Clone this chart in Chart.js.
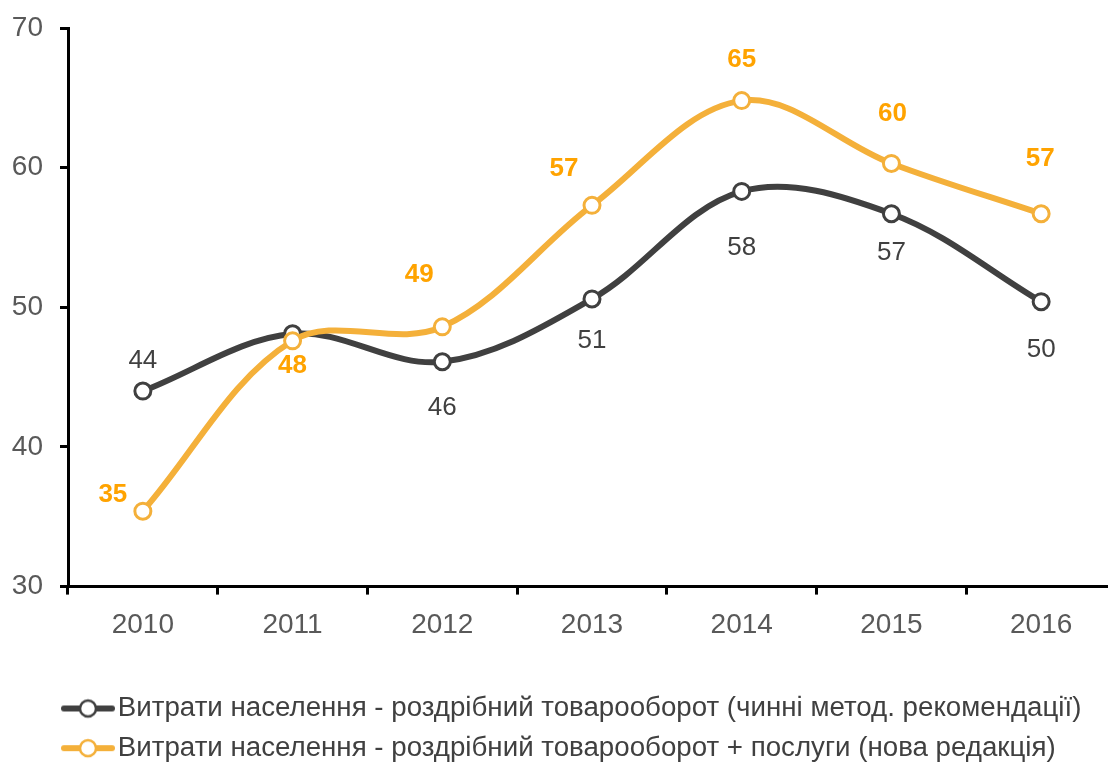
<!DOCTYPE html>
<html>
<head>
<meta charset="utf-8">
<script src="https://cdn.jsdelivr.net/npm/chart.js@4"></script>
<style>
  html, body { margin: 0; padding: 0; overflow: hidden; background: #fff; }
  #lineChart { position: absolute; left: 0; top: 0; }
</style>
</head>
<body>
<canvas id="lineChart" width="1116" height="772"></canvas>
<script>
// values
var years = ["2010", "2011", "2012", "2013", "2014", "2015", "2016"];
var retailOld = [44.0, 48.1, 46.1, 50.6, 58.3, 56.7, 50.4];
var retailNew = [35.4, 47.6, 48.6, 57.3, 64.8, 60.3, 56.7];
var retailOldName = "Витрати населення - роздрібний товарооборот (чинні метод. рекомендації)";
var retailNewName = "Витрати населення - роздрібний товарооборот + послуги (нова редакція)";

var darkColor = "#404040";
var orangeColor = "#F4B03A";
var orangeText = "#FFA300";
var tickColor = "#595959";
var baseFont = "'Liberation Sans', Arial, sans-serif";

// where each value label sits relative to its point (null = no label)
var oldLabelShift = [[0, -30], null, [0, 46], [0, 42], [0, 56], [0, 39], [0, 48]];
var newLabelShift = [[-30, -16], [0, 25], [-23, -52], [-28, -37], [0, -41], [1, -50], [-1, -55]];

// legend swatch: line with an open circle, padded on the left so the text lands right
function makeSwatch(color) {
  var c = document.createElement("canvas");
  c.width = 114;
  c.height = 24;
  var g = c.getContext("2d");
  g.strokeStyle = color;
  g.lineWidth = 6;
  g.lineCap = "round";
  g.beginPath();
  g.moveTo(63, 12);
  g.lineTo(111, 12);
  g.stroke();
  g.beginPath();
  g.arc(87, 12, 8, 0, Math.PI * 2);
  g.fillStyle = "#fff";
  g.fill();
  g.lineWidth = 2.5;
  g.stroke();
  return c;
}

var valueLabels = {
  id: "valueLabels",
  afterDatasetsDraw: function (chart) {
    var ctx = chart.ctx;
    chart.data.datasets.forEach(function (ds, i) {
      var meta = chart.getDatasetMeta(i);
      meta.data.forEach(function (pt, j) {
        var s = ds.labelShift[j];
        if (!s) return;
        ctx.save();
        ctx.font = ds.labelFont;
        ctx.fillStyle = ds.labelColor;
        ctx.textAlign = "center";
        ctx.textBaseline = "middle";
        ctx.fillText(Math.round(ds.data[j]), pt.x + s[0], pt.y + s[1]);
        ctx.restore();
      });
    });
  }
};

function noEdgePadding(scale) {
  scale.paddingLeft = 0;
  scale.paddingRight = 0;
  scale.paddingTop = 0;
  scale.paddingBottom = 0;
}

var ctx = document.getElementById("lineChart").getContext("2d");
var lineChart = new Chart(ctx, {
  type: "line",
  data: {
    labels: years,
    datasets: [
      {
        label: retailOldName,
        data: retailOld,
        order: 1,
        borderColor: darkColor,
        borderWidth: 6,
        pointStyle: "circle",
        pointRadius: 8,
        pointBorderWidth: 3,
        pointBackgroundColor: "#fff",
        pointBorderColor: darkColor,
        tension: 0.35,
        swatch: makeSwatch(darkColor),
        labelShift: oldLabelShift,
        labelFont: "26px " + baseFont,
        labelColor: darkColor
      },
      {
        label: retailNewName,
        data: retailNew,
        order: 0,
        borderColor: orangeColor,
        borderWidth: 6,
        pointStyle: "circle",
        pointRadius: 8,
        pointBorderWidth: 3,
        pointBackgroundColor: "#fff",
        pointBorderColor: orangeColor,
        tension: 0.35,
        swatch: makeSwatch(orangeColor),
        labelShift: newLabelShift,
        labelFont: "bold 26px " + baseFont,
        labelColor: orangeText
      }
    ]
  },
  options: {
    responsive: false,
    animation: false,
    layout: { autoPadding: false, padding: { top: 28, left: 0, right: 0, bottom: 0 } },
    plugins: {
      tooltip: { enabled: false },
      legend: {
        position: "bottom",
        align: "start",
        labels: {
          usePointStyle: true,
          pointStyleWidth: 92,
          padding: 12,
          color: darkColor,
          font: { family: baseFont, size: 27.7 },
          generateLabels: function (chart) {
            return chart.data.datasets.map(function (ds, i) {
              return {
                text: ds.label,
                pointStyle: ds.swatch,
                datasetIndex: i,
                fontColor: darkColor,
                lineWidth: 0,
                hidden: false
              };
            });
          }
        }
      }
    },
    scales: {
      x: {
        offset: true,
        grid: {
          offset: true,
          drawOnChartArea: false,
          drawTicks: true,
          tickLength: 8,
          tickWidth: 3,
          tickColor: "#000"
        },
        border: { display: true, color: "#000", width: 3 },
        ticks: { color: tickColor, padding: 14, font: { family: baseFont, size: 28 } },
        afterFit: function (scale) { noEdgePadding(scale); scale.height = 96; }
      },
      y: {
        min: 30,
        max: 70,
        grid: {
          drawOnChartArea: false,
          drawTicks: true,
          tickLength: 8,
          tickWidth: 3,
          tickColor: "#000"
        },
        border: { display: true, color: "#000", width: 3 },
        ticks: { stepSize: 10, color: tickColor, padding: 17, font: { family: baseFont, size: 28 } },
        afterFit: function (scale) { noEdgePadding(scale); scale.width = 68; }
      }
    }
  },
  plugins: [valueLabels]
});
</script>
</body>
</html>
